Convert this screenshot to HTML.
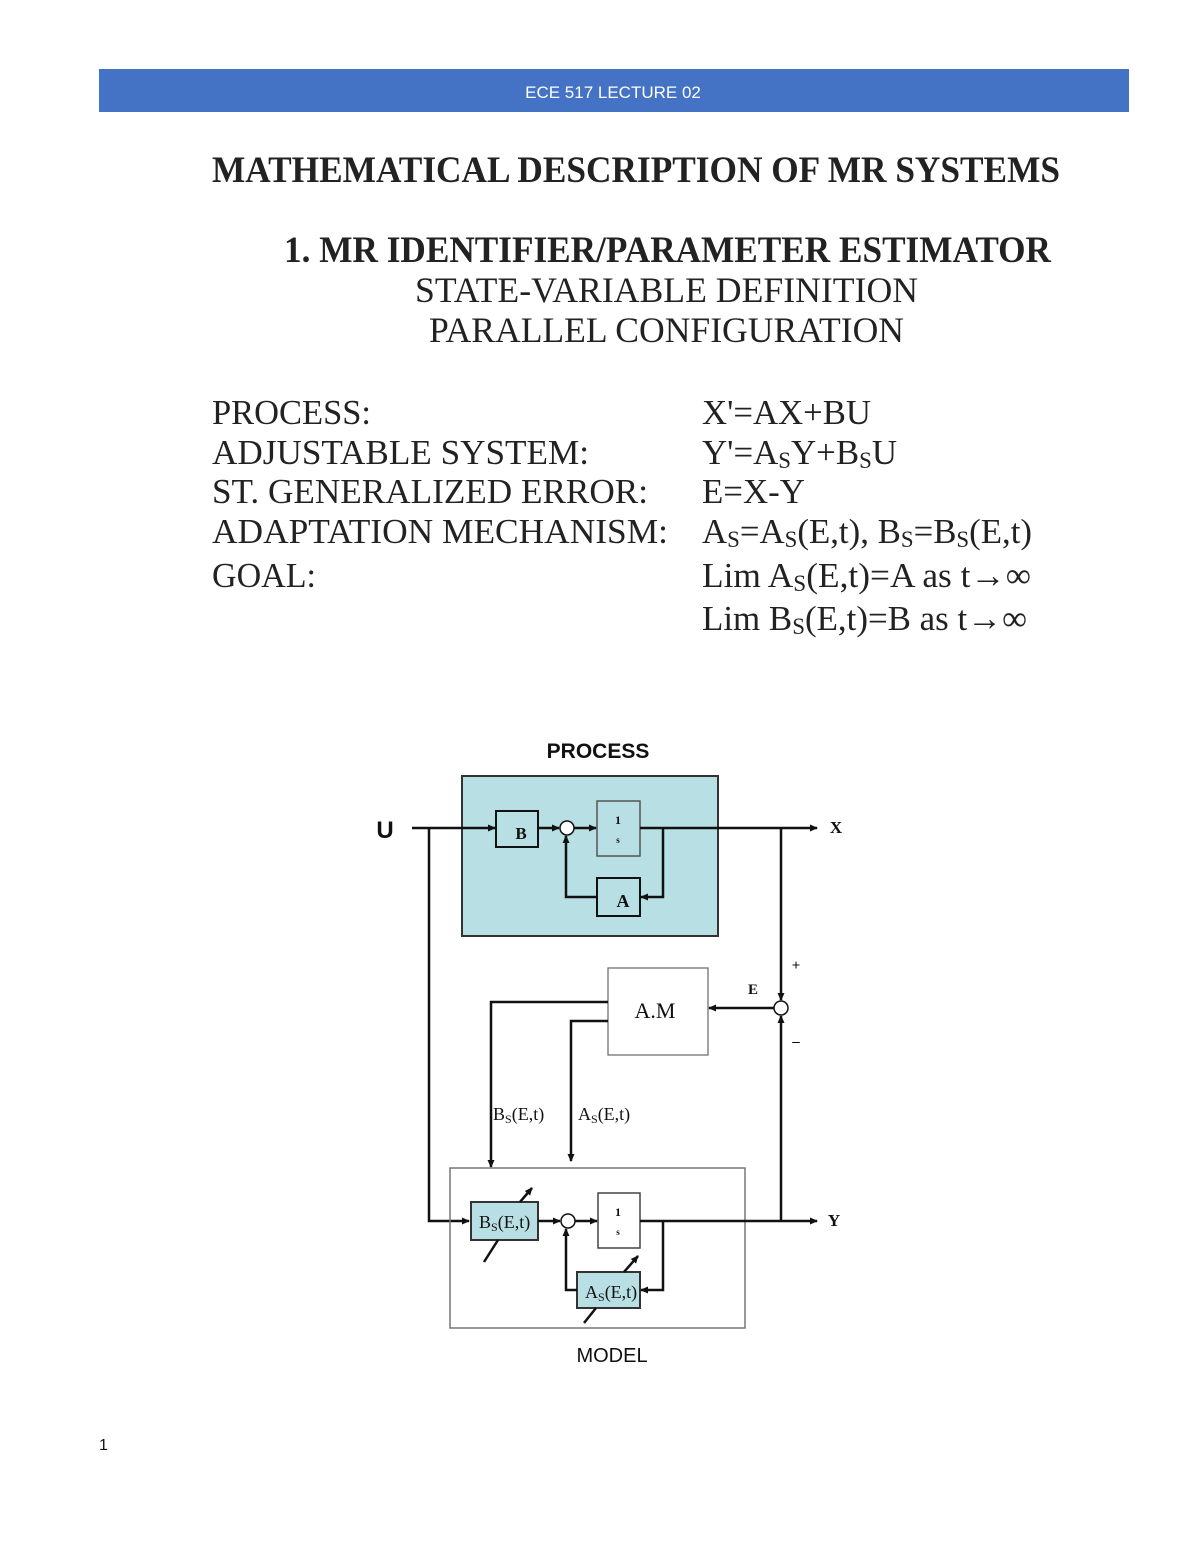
<!DOCTYPE html>
<html><head><meta charset="utf-8"><style>
html,body{margin:0;padding:0;background:#fff;}
svg{display:block}
.t{font-family:"Liberation Serif",serif;fill:#222}
</style></head><body>
<svg width="1200" height="1553" viewBox="0 0 1200 1553" xmlns="http://www.w3.org/2000/svg">
<defs>
<marker id="ar" markerWidth="8" markerHeight="8" refX="7" refY="4" orient="auto" markerUnits="userSpaceOnUse"><path d="M0,0.5 L8,4 L0,7.5 z" fill="#111"/></marker>
</defs>
<rect x="99" y="69" width="1030" height="43" fill="#4472c4"/>
<text x="613" y="98" font-family="Liberation Sans,sans-serif" font-size="17" fill="#fff" text-anchor="middle">ECE 517 LECTURE 02</text>

<g class="t">
<text x="212" y="182" font-size="37" font-weight="bold" textLength="848" lengthAdjust="spacingAndGlyphs">MATHEMATICAL DESCRIPTION OF MR SYSTEMS</text>
<text x="284" y="262" font-size="37" font-weight="bold" textLength="767" lengthAdjust="spacingAndGlyphs">1. MR IDENTIFIER/PARAMETER ESTIMATOR</text>
<text x="415" y="302" font-size="36" textLength="503" lengthAdjust="spacingAndGlyphs">STATE-VARIABLE DEFINITION</text>
<text x="429" y="342" font-size="36" textLength="475" lengthAdjust="spacingAndGlyphs">PARALLEL CONFIGURATION</text>

<g font-size="35">
<text x="212" y="424" textLength="159" lengthAdjust="spacingAndGlyphs">PROCESS:</text>
<text x="212" y="464" textLength="377" lengthAdjust="spacingAndGlyphs">ADJUSTABLE SYSTEM:</text>
<text x="212" y="503" textLength="436" lengthAdjust="spacingAndGlyphs">ST. GENERALIZED ERROR:</text>
<text x="212" y="543" textLength="456" lengthAdjust="spacingAndGlyphs">ADAPTATION MECHANISM:</text>
<text x="212" y="587" textLength="104" lengthAdjust="spacingAndGlyphs">GOAL:</text>
<text x="702" y="424" textLength="169" lengthAdjust="spacingAndGlyphs">X'=AX+BU</text>
<text x="702" y="464" textLength="195" lengthAdjust="spacingAndGlyphs">Y'=A<tspan font-size="23" dy="4">S</tspan><tspan dy="-4">Y+B</tspan><tspan font-size="23" dy="4">S</tspan><tspan dy="-4">U</tspan></text>
<text x="702" y="503" textLength="103" lengthAdjust="spacingAndGlyphs">E=X-Y</text>
<text x="702" y="543" textLength="330" lengthAdjust="spacingAndGlyphs">A<tspan font-size="23" dy="4">S</tspan><tspan dy="-4">=A</tspan><tspan font-size="23" dy="4">S</tspan><tspan dy="-4">(E,t), B</tspan><tspan font-size="23" dy="4">S</tspan><tspan dy="-4">=B</tspan><tspan font-size="23" dy="4">S</tspan><tspan dy="-4">(E,t)</tspan></text>
<text x="702" y="587" textLength="329" lengthAdjust="spacingAndGlyphs">Lim A<tspan font-size="23" dy="4">S</tspan><tspan dy="-4">(E,t)=A as t→∞</tspan></text>
<text x="702" y="630" textLength="325" lengthAdjust="spacingAndGlyphs">Lim B<tspan font-size="23" dy="4">S</tspan><tspan dy="-4">(E,t)=B as t→∞</tspan></text>
</g>
</g>

<text x="598" y="758" font-family="Liberation Sans,sans-serif" font-size="21" font-weight="bold" text-anchor="middle" fill="#111">PROCESS</text>
<text x="612" y="1362" font-family="Liberation Sans,sans-serif" font-size="20" text-anchor="middle" fill="#111">MODEL</text>
<text x="99" y="1450" font-family="Liberation Sans,sans-serif" font-size="16" fill="#111">1</text>

<g stroke="#111" stroke-width="2.5" fill="none">
<rect x="462" y="776" width="256" height="160" fill="#b8dfe3" stroke="#333" stroke-width="2"/>
<rect x="496" y="811" width="42" height="36" fill="#b8dfe3" stroke-width="2"/>
<rect x="597" y="801" width="43" height="55" fill="#b8dfe3" stroke="#555" stroke-width="1.5"/>
<rect x="597" y="878" width="43" height="38" fill="#b8dfe3" stroke-width="2"/>
<circle cx="567" cy="828" r="7" fill="#fff" stroke-width="1.5"/>
<line x1="412" y1="828" x2="495" y2="828" marker-end="url(#ar)"/>
<line x1="538" y1="828" x2="559" y2="828" marker-end="url(#ar)"/>
<line x1="574" y1="828" x2="596" y2="828" marker-end="url(#ar)"/>
<line x1="640" y1="828" x2="817" y2="828" marker-end="url(#ar)"/>
<polyline points="663,828 663,897 641,897" marker-end="url(#ar)"/>
<polyline points="597,897 566,897 566,836" marker-end="url(#ar)"/>
<line x1="781" y1="828" x2="781" y2="1000" marker-end="url(#ar)"/>
<line x1="781" y1="1221" x2="781" y2="1016" marker-end="url(#ar)"/>
<circle cx="781" cy="1008" r="7" fill="#fff" stroke-width="1.5"/>
<rect x="608" y="968" width="100" height="87" fill="#fff" stroke="#666" stroke-width="1.2"/>
<line x1="774" y1="1008" x2="709" y2="1008" marker-end="url(#ar)"/>
<polyline points="608,1002 491,1002 491,1167" marker-end="url(#ar)"/>
<polyline points="608,1021 571,1021 571,1161" marker-end="url(#ar)"/>
<polyline points="429,828 429,1221 469,1221" marker-end="url(#ar)"/>
<rect x="450" y="1168" width="295" height="160" fill="none" stroke="#777" stroke-width="1.5"/>
<rect x="471" y="1202" width="67" height="38" fill="#b8dfe3" stroke="#333" stroke-width="2"/>
<rect x="598" y="1193" width="42" height="55" fill="#fff" stroke="#444" stroke-width="1.5"/>
<rect x="577" y="1272" width="63" height="36" fill="#b8dfe3" stroke="#333" stroke-width="2"/>
<circle cx="568" cy="1221" r="7" fill="#fff" stroke-width="1.5"/>
<line x1="538" y1="1221" x2="560" y2="1221" marker-end="url(#ar)"/>
<line x1="575" y1="1221" x2="597" y2="1221" marker-end="url(#ar)"/>
<line x1="640" y1="1221" x2="817" y2="1221" marker-end="url(#ar)"/>
<polyline points="663,1221 663,1290 641,1290" marker-end="url(#ar)"/>
<polyline points="577,1290 566,1290 566,1229" marker-end="url(#ar)"/>
<line x1="484" y1="1262" x2="498" y2="1240"/>
<line x1="520" y1="1202" x2="532" y2="1188" marker-end="url(#ar)"/>
<line x1="584" y1="1323" x2="596" y2="1308"/>
<line x1="624" y1="1272" x2="638" y2="1256" marker-end="url(#ar)"/>
</g>

<g font-family="Liberation Serif,serif" fill="#111">
<text x="385" y="838" font-family="Liberation Sans,sans-serif" font-size="24" font-weight="bold" text-anchor="middle">U</text>
<text x="521" y="839" font-size="17" font-weight="bold" text-anchor="middle">B</text>
<text x="623" y="907" font-size="18" font-weight="bold" text-anchor="middle">A</text>
<text x="618" y="824" font-size="12" font-weight="bold" text-anchor="middle">1</text>
<text x="618" y="843" font-size="9" font-weight="bold" text-anchor="middle">s</text>
<text x="836" y="833" font-size="17" font-weight="bold" text-anchor="middle">X</text>
<text x="834" y="1226" font-size="17" font-weight="bold" text-anchor="middle">Y</text>
<text x="753" y="994" font-size="15" font-weight="bold" text-anchor="middle">E</text>
<text x="796" y="970" font-size="15" font-weight="bold" text-anchor="middle">+</text>
<text x="796" y="1046" font-size="15" font-weight="bold" text-anchor="middle">–</text>
<text x="655" y="1018" font-size="22" text-anchor="middle">A.M</text>
<text x="493" y="1120" font-size="18">B<tspan font-size="12" dy="3">S</tspan><tspan dy="-3">(E,t)</tspan></text>
<text x="578" y="1120" font-size="18">A<tspan font-size="12" dy="3">S</tspan><tspan dy="-3">(E,t)</tspan></text>
<text x="479" y="1228" font-size="18">B<tspan font-size="12" dy="3">S</tspan><tspan dy="-3">(E,t)</tspan></text>
<text x="585" y="1298" font-size="18">A<tspan font-size="12" dy="3">S</tspan><tspan dy="-3">(E,t)</tspan></text>
<text x="618" y="1216" font-size="12" font-weight="bold" text-anchor="middle">1</text>
<text x="618" y="1235" font-size="9" font-weight="bold" text-anchor="middle">s</text>
</g>
</svg>
</body></html>
